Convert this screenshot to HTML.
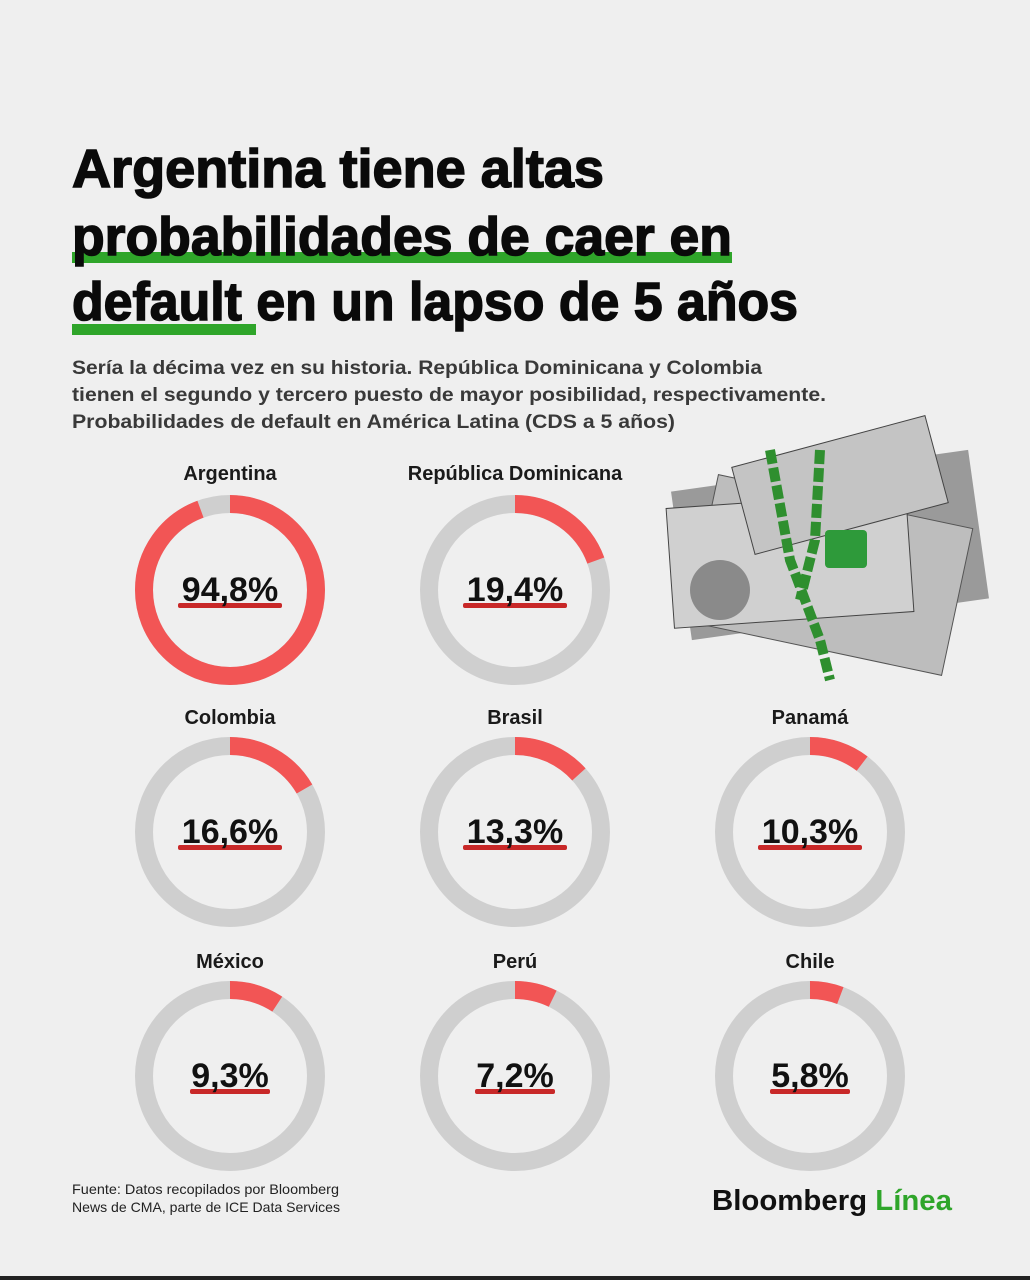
<!DOCTYPE html>
<html><head><meta charset="utf-8"><style>
body{margin:0;background:#efefef}
svg{display:block;font-family:"Liberation Sans",sans-serif}
</style></head><body>
<svg width="1030" height="1280" viewBox="0 0 1030 1280">
<rect width="1030" height="1280" fill="#efefef"/>
<rect x="0" y="1276" width="1030" height="4" fill="#222"/>
<rect x="72" y="252" width="660" height="11" fill="#2fa52a"/>
<rect x="72" y="324" width="184" height="11" fill="#2fa52a"/>
<g font-weight="bold" font-size="54" fill="#0a0a0a" stroke="#0a0a0a" stroke-width="1.5">
<text x="72" y="187" textLength="532" lengthAdjust="spacingAndGlyphs">Argentina tiene altas</text>
<text x="72" y="255" textLength="660" lengthAdjust="spacingAndGlyphs">probabilidades de caer en</text>
<text x="72" y="320" textLength="726" lengthAdjust="spacingAndGlyphs">default en un lapso de 5 años</text>
</g>
<g font-size="19.5" fill="#1a1a1a" font-weight="bold" opacity="0.85">
<text x="72" y="374" textLength="690" lengthAdjust="spacingAndGlyphs">Sería la décima vez en su historia. República Dominicana y Colombia</text>
<text x="72" y="401" textLength="754" lengthAdjust="spacingAndGlyphs">tienen el segundo y tercero puesto de mayor posibilidad, respectivamente.</text>
<text x="72" y="428" textLength="603" lengthAdjust="spacingAndGlyphs">Probabilidades de default en América Latina (CDS a 5 años)</text>
</g>
<g>
<rect x="680" y="470" width="300" height="150" fill="#9a9a9a" transform="rotate(-8 830 545)"/>
<rect x="700" y="500" width="260" height="150" fill="#bdbdbd" transform="rotate(12 830 575)" stroke="#555"/>
<rect x="670" y="500" width="240" height="120" fill="#d0d0d0" transform="rotate(-4 790 560)" stroke="#444"/>
<rect x="740" y="440" width="200" height="90" fill="#c4c4c4" transform="rotate(-15 840 485)" stroke="#444"/>
<circle cx="720" cy="590" r="30" fill="#8a8a8a"/>
<path d="M770 450 L790 560 L820 640 L830 680" stroke="#2f8f2f" stroke-width="10" fill="none" stroke-dasharray="14 4"/>
<path d="M820 450 L815 540 L800 600" stroke="#2f8f2f" stroke-width="10" fill="none" stroke-dasharray="14 4"/>
<rect x="825" y="530" width="42" height="38" rx="4" fill="#2e9a3a"/>
</g>
<g font-weight="bold" text-anchor="middle">
<g font-size="20" fill="#1a1a1a">
<text x="230" y="480">Argentina</text><text x="515" y="480">República Dominicana</text>
<text x="230" y="724">Colombia</text><text x="515" y="724">Brasil</text><text x="810" y="724">Panamá</text>
<text x="230" y="968">México</text><text x="515" y="968">Perú</text><text x="810" y="968">Chile</text>
</g>
</g>
<g fill="none" stroke-width="18">
<g transform="translate(230 590) rotate(-90)"><circle r="86" stroke="#cfcfcf"/><circle r="86" stroke="#f25555" stroke-dasharray="510 540"/></g>
<g transform="translate(515 590) rotate(-90)"><circle r="86" stroke="#cfcfcf"/><circle r="86" stroke="#f25555" stroke-dasharray="105 540"/></g>
<g transform="translate(230 832) rotate(-90)"><circle r="86" stroke="#cfcfcf"/><circle r="86" stroke="#f25555" stroke-dasharray="90 540"/></g>
<g transform="translate(515 832) rotate(-90)"><circle r="86" stroke="#cfcfcf"/><circle r="86" stroke="#f25555" stroke-dasharray="72 540"/></g>
<g transform="translate(810 832) rotate(-90)"><circle r="86" stroke="#cfcfcf"/><circle r="86" stroke="#f25555" stroke-dasharray="56 540"/></g>
<g transform="translate(230 1076) rotate(-90)"><circle r="86" stroke="#cfcfcf"/><circle r="86" stroke="#f25555" stroke-dasharray="50 540"/></g>
<g transform="translate(515 1076) rotate(-90)"><circle r="86" stroke="#cfcfcf"/><circle r="86" stroke="#f25555" stroke-dasharray="39 540"/></g>
<g transform="translate(810 1076) rotate(-90)"><circle r="86" stroke="#cfcfcf"/><circle r="86" stroke="#f25555" stroke-dasharray="31 540"/></g>
</g>
<g fill="#c82828">
<rect x="178" y="603" width="104" height="5" rx="2"/><rect x="463" y="603" width="104" height="5" rx="2"/>
<rect x="178" y="845" width="104" height="5" rx="2"/><rect x="463" y="845" width="104" height="5" rx="2"/><rect x="758" y="845" width="104" height="5" rx="2"/>
<rect x="190" y="1089" width="80" height="5" rx="2"/><rect x="475" y="1089" width="80" height="5" rx="2"/><rect x="770" y="1089" width="80" height="5" rx="2"/>
</g>
<g font-size="34" fill="#111" text-anchor="middle" font-weight="bold">
<text x="230" y="601">94,8%</text><text x="515" y="601">19,4%</text>
<text x="230" y="843">16,6%</text><text x="515" y="843">13,3%</text><text x="810" y="843">10,3%</text>
<text x="230" y="1087">9,3%</text><text x="515" y="1087">7,2%</text><text x="810" y="1087">5,8%</text>
</g>
<g font-size="14" fill="#222">
<text x="72" y="1194" textLength="267" lengthAdjust="spacingAndGlyphs">Fuente: Datos recopilados por Bloomberg</text>
<text x="72" y="1212" textLength="268" lengthAdjust="spacingAndGlyphs">News de CMA, parte de ICE Data Services</text>
</g>
<text x="712" y="1210" font-size="29" font-weight="bold" fill="#111" textLength="240" lengthAdjust="spacingAndGlyphs">Bloomberg <tspan fill="#2fa52a">Línea</tspan></text>
</svg>
</body></html>
